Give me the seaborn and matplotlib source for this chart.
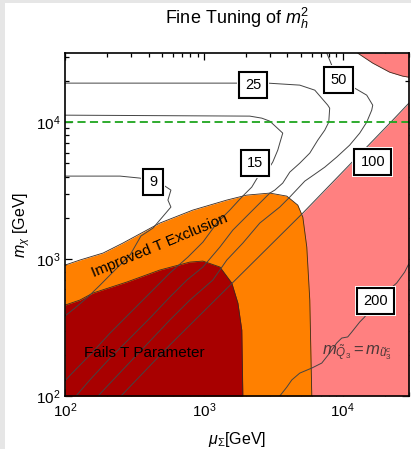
import matplotlib
matplotlib.use("Agg")
import matplotlib.pyplot as plt
import seaborn as sns
from matplotlib.patches import Rectangle
from matplotlib.ticker import NullFormatter, LogLocator

# ---- axis ranges (GeV) ----
mu_range = (100, 3.0e4)
mchi_range = (100, 3.2e4)

# ---- shaded regions: boundaries in (mu_Sigma, m_chi) ----
fail_t_mu = [100, 128, 159, 279, 482, 793, 984, 1305, 1589, 1758, 1875, 1908]
fail_t_mchi = [461, 502, 565, 680, 832, 951, 967, 875, 668, 477, 303, 100]

improved_t_mu = [100, 128, 188, 261, 482, 833, 1463, 2037, 2985, 3953, 4744, 5157, 5508, 5790, 5985]
improved_t_mchi = [904, 984, 1107, 1309, 1833, 2280, 2698, 2933, 3034, 2884, 2479, 2028, 1225, 502, 100]

degenerate_mu = [253, 569, 5157, 22540, 30000]
degenerate_mchi = [100, 236, 2168, 10170, 13800]

corner_mu = [12830, 16440, 21760, 27030, 30000]
corner_mchi = [31900, 26990, 23180, 21680, 21300]

# ---- fine-tuning contours ----
ft9_mu = [100, 249, 347, 430, 524, 579, 551, 579, 482, 430, 352, 294, 229, 179, 146, 118, 100]
ft9_mchi = [4037, 4037, 3903, 3650, 3413, 3191, 2698, 2399, 1928, 1684, 1473, 1070, 832, 646, 528, 439, 384]

ft15_mu = [100, 2142, 2612, 2985, 3698, 3521, 3406, 3133, 2884, 2445, 2213, 1875, 1538, 1241,
           984, 768, 569, 409, 294, 211, 151, 109, 100]
ft15_mchi = [11250, 11070, 10700, 10170, 8318, 7031, 6251, 5110, 4467, 3972, 3357, 2838, 2280, 1833,
             1330, 1035, 791, 565, 404, 288, 199, 142, 129]

ft25_mu = [100, 2884, 4905, 6292, 7800, 8054, 7930, 7425, 6610, 5790, 4905, 4155, 3698, 3243, 2985,
           2142, 1617, 1305, 984, 755, 569, 409, 294, 211, 151, 120]
ft25_mchi = [19280, 19280, 18640, 17130, 13310, 12650, 10000, 8745, 7390, 5944, 5019, 4316, 3590, 3191, 3034,
             2168, 1629, 1225, 875, 703, 528, 371, 265, 189, 131, 100]

ft50_mu = [7676, 8054, 8326, 9350, 12200, 14880, 16440, 16170, 14880, 13250, 11210, 9054, 7425, 6292, 5329,
           4155, 3521, 2527, 1908, 1463, 1161, 793, 569, 409, 294, 211, 173]
ft50_mchi = [31900, 28380, 26080, 20270, 17720, 15750, 13310, 12240, 10000, 8318, 6792, 5560, 4693, 4171, 3710,
             2838, 2399, 1833, 1309, 984, 703, 502, 359, 252, 177, 124, 100]

ft200_mu = [29850, 27920, 24440, 17270, 14390, 13250, 11610, 10860, 9837, 9054, 8054, 7063, 5985, 4905,
            4297, 3953, 3521]
ft200_mchi = [920, 804, 668, 494, 378, 347, 293, 270, 265, 244, 206, 174, 160, 147, 131, 116, 100]

# contour labels: text and position
level_text = ["9", "15", "25", "50", "100", "200"]
level_mu = [430, 2328, 2254, 9350, 16440, 17270]
level_mchi = [3650, 5019, 18640, 20270, 5110, 494]

lep_bound = 1.0e4

# ---- style ----
sns.set_theme(style="ticks")
plt.rcParams["font.family"] = ["Liberation Sans", "DejaVu Sans"]
plt.rcParams["mathtext.fontset"] = "custom"
plt.rcParams["mathtext.rm"] = "Liberation Sans"
plt.rcParams["mathtext.it"] = "Liberation Sans:italic"
plt.rcParams["mathtext.bf"] = "Liberation Sans:bold"

fig = plt.figure(figsize=(4.11, 4.49), dpi=100, facecolor="#e6e6e6")
fig.patches.append(Rectangle((5 / 411, 0), 1, 1 - 3 / 449, transform=fig.transFigure,
                             facecolor="white", edgecolor="none", zorder=-10))
ax = fig.add_axes([65 / 411, 1 - 396 / 449, 344 / 411, 343 / 449])
ax.set_facecolor("white")
ax.set_xscale("log")
ax.set_yscale("log")
ax.set_xlim(*mu_range)
ax.set_ylim(*mchi_range)

edge = "#3a2a20"
# shaded regions
ax.fill_between(degenerate_mu, degenerate_mchi, mchi_range[0], color="#ff8080", lw=0, zorder=1)
ax.fill_between(corner_mu, corner_mchi, mchi_range[1], color="#ff8080", lw=0, zorder=1)
ax.fill_between(improved_t_mu, improved_t_mchi, mchi_range[0], color="#ff8000", lw=0, zorder=2)
ax.fill_between(fail_t_mu, fail_t_mchi, mchi_range[0], color="#a80000", lw=0, zorder=3)
for xs, ys in [(improved_t_mu, improved_t_mchi), (fail_t_mu, fail_t_mchi), (corner_mu, corner_mchi)]:
    ax.plot(xs, ys, color=edge, lw=0.6, zorder=3.5)

# contour lines
line_kw = dict(sort=False, estimator=None, color="#444444", linewidth=0.7, ax=ax, zorder=4)
for xs, ys in [(ft9_mu, ft9_mchi), (ft15_mu, ft15_mchi), (ft25_mu, ft25_mchi),
               (ft50_mu, ft50_mchi), (ft200_mu, ft200_mchi), (degenerate_mu, degenerate_mchi)]:
    sns.lineplot(x=xs, y=ys, **line_kw)

ax.axhline(lep_bound, color="#1ea51e", lw=1.3, ls=(0, (4.5, 2.4)), zorder=5)

# region labels
ax.text(482, 1245, "Improved T Exclusion", rotation=22.5, rotation_mode="anchor",
        ha="center", va="center", fontsize=11, color="black", zorder=6)
ax.text(370, 206, "Fails T Parameter", ha="center", va="center", fontsize=11,
        color="black", zorder=6)
ax.text(12620, 209, r"$m_{\tilde{Q}_3} = m_{\tilde{u}_3^c}$", ha="center", va="center",
        fontsize=12, color="#4d3838", zorder=6)

# contour level boxes
for s, x, y in zip(level_text, level_mu, level_mchi):
    ax.text(x, y, s, ha="center", va="center", fontsize=10.5, color="white", zorder=7,
            bbox=dict(boxstyle="square,pad=0.55", fc="white", ec="white", lw=0))
    ax.text(x, y, s, ha="center", va="center", fontsize=10.5, color="black", zorder=8,
            bbox=dict(boxstyle="square,pad=0.42", fc="white", ec="black", lw=1.5))

# frame and ticks
for sp in ax.spines.values():
    sp.set_visible(True)
    sp.set_color("black")
    sp.set_linewidth(1.2)
    sp.set_zorder(10)
for axis in (ax.xaxis, ax.yaxis):
    axis.set_major_locator(LogLocator(base=10))
    axis.set_minor_locator(LogLocator(base=10, subs=range(2, 10)))
    axis.set_minor_formatter(NullFormatter())
ax.tick_params(which="both", direction="in", top=True, right=True, bottom=True, left=True,
               color="black", width=0.9, labelsize=11, labelcolor="black")
ax.tick_params(which="major", length=5)
ax.tick_params(which="minor", length=3)
ax.tick_params(axis="x", pad=4)
ax.tick_params(axis="y", pad=3)

ax.set_xlabel(r"$\mu_\Sigma$[GeV]", fontsize=11.5, color="black", labelpad=7)
ax.set_ylabel(r"$m_\chi$ [GeV]", fontsize=11.5, color="black", labelpad=3)
fig.text(237.5 / 411, 1 - 18 / 449, r"Fine Tuning of $m_h^2$", ha="center", va="center",
         fontsize=13, color="black")

fig.savefig("out.png", dpi=100, facecolor=fig.get_facecolor())
